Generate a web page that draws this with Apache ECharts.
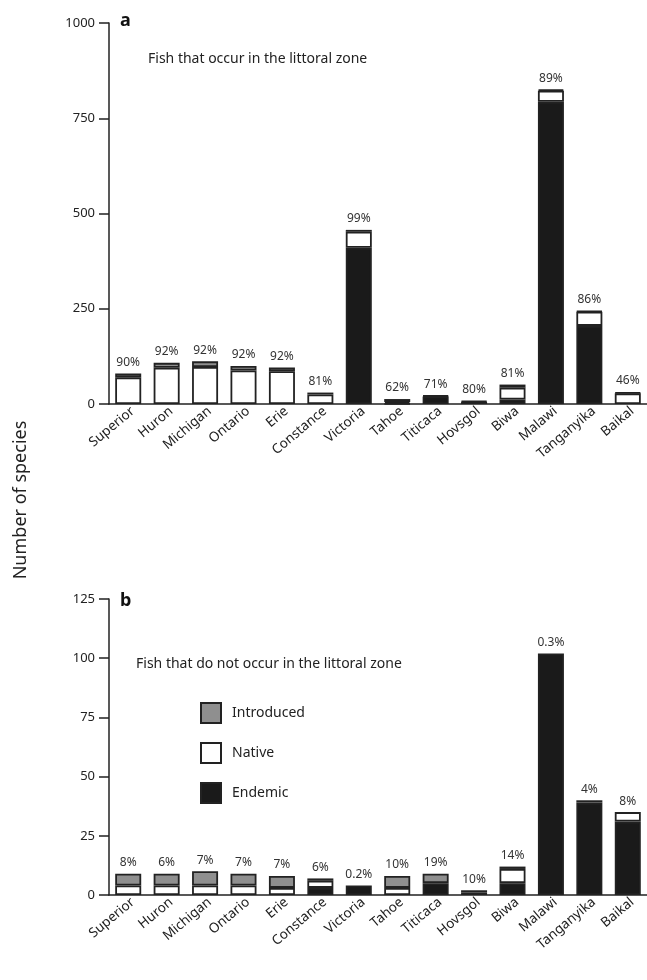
<!DOCTYPE html>
<html>
<head>
<meta charset="utf-8">
<script src="https://cdn.jsdelivr.net/npm/echarts@6/dist/echarts.min.js"></script>
<style>
html,body{margin:0;padding:0;background:#fff;}
#chart{width:647px;height:980px;}
</style>
</head>
<body>
<div id="chart"></div>
<script>
const lakes = ['Superior','Huron','Michigan','Ontario','Erie','Constance','Victoria','Tahoe','Titicaca','Hovsgol','Biwa','Malawi','Tanganyika','Baikal'];

// Panel a: fish that occur in the littoral zone
const endemicA    = [0, 0, 0, 0, 0, 0, 410, 1, 20, 0, 12, 793, 205, 0];
const nativeA     = [70, 95, 97, 88, 86, 25, 42, 4, 0, 6, 31, 29, 37, 28];
const introducedA = [10, 13, 15, 12, 10, 5, 5, 8, 2, 2, 8, 3, 2, 2];
const pctA = ['90%','92%','92%','92%','92%','81%','99%','62%','71%','80%','81%','89%','86%','46%'];

// Panel b: fish that do not occur in the littoral zone
const endemicB    = [0, 0, 0, 0, 0, 3, 4, 0, 5, 0, 5, 102, 39, 31];
const nativeB     = [4, 4, 4, 4, 3, 3, 0, 3, 0, 1, 6, 0, 0, 4];
const introducedB = [5, 5, 6, 5, 5, 1, 0, 5, 4, 1, 1, 0, 1, 0];
const pctB = ['8%','6%','7%','7%','7%','6%','0.2%','10%','19%','10%','14%','0.3%','4%','8%'];

const ticksA = {min:0, max:1000, interval:250};
const ticksB = {min:0, max:125, interval:25};

const FONT = 'Noto Sans';
const COLORS = {Introduced:'#8f8f8f', Native:'#ffffff', Endemic:'#1a1a1a'};

function seg(arr){
  return arr.map(v => v === 0 ? {value:0, itemStyle:{borderWidth:0}} : v);
}

function makeSeries(name, arr, idx, stack, pct){
  const s = {
    name: name, type:'bar', stack: stack,
    xAxisIndex: idx, yAxisIndex: idx,
    barWidth: 26,
    data: seg(arr),
    itemStyle:{color: COLORS[name], borderColor:'#222', borderWidth:1.8},
    emphasis:{disabled:true},
    animation:false
  };
  if (pct){
    s.label = {show:true, position:'top', distance:5, fontFamily:FONT, fontSize:12, color:'#333',
      formatter: p => pct[p.dataIndex]};
  }
  return s;
}

const xAxisCommon = {
  type:'category', data: lakes,
  axisLine:{show:true, lineStyle:{color:'#222', width:1.5}},
  axisTick:{show:false},
  axisLabel:{rotate:40, fontFamily:FONT, fontSize:13.5, color:'#222', margin:0, interval:0, verticalAlign:'top'}
};
const yAxisCommon = {
  type:'value',
  axisLine:{show:true, lineStyle:{color:'#222', width:1.5}},
  axisTick:{show:true, length:10, lineStyle:{color:'#222', width:1.5}},
  axisLabel:{fontFamily:FONT, fontSize:13, color:'#222', margin:14, formatter: v => String(v)},
  splitLine:{show:false}
};

const chart = echarts.init(document.getElementById('chart'), null, {renderer:'canvas'});
chart.setOption({
  backgroundColor:'#fff',
  animation:false,
  grid:[
    {left:109, top:23, width:540, height:381},
    {left:109, top:599, width:540, height:296}
  ],
  xAxis:[
    Object.assign({gridIndex:0}, xAxisCommon),
    Object.assign({gridIndex:1}, xAxisCommon)
  ],
  yAxis:[
    Object.assign({gridIndex:0}, yAxisCommon, ticksA),
    Object.assign({gridIndex:1}, yAxisCommon, ticksB)
  ],
  legend:{
    data:['Introduced','Native','Endemic'],
    orient:'vertical', left:195, top:697,
    itemWidth:20, itemHeight:20, itemGap:18,
    textStyle:{fontFamily:FONT, fontSize:14, color:'#222', padding:[0,0,0,6]},
    icon:'rect', selectedMode:false
  },
  series:[
    makeSeries('Endemic', endemicA, 0, 'a'),
    makeSeries('Native', nativeA, 0, 'a'),
    makeSeries('Introduced', introducedA, 0, 'a', pctA),
    makeSeries('Endemic', endemicB, 1, 'b'),
    makeSeries('Native', nativeB, 1, 'b'),
    makeSeries('Introduced', introducedB, 1, 'b', pctB)
  ],
  graphic:[
    {type:'text', left:120, top:12, style:{text:'a', fontFamily:FONT, fontSize:18, fontWeight:'bold', fill:'#111'}},
    {type:'text', left:120, top:592, style:{text:'b', fontFamily:FONT, fontSize:18, fontWeight:'bold', fill:'#111'}},
    {type:'text', left:148, top:52, style:{text:'Fish that occur in the littoral zone', fontFamily:FONT, fontSize:14, fill:'#222'}},
    {type:'text', left:136, top:657, style:{text:'Fish that do not occur in the littoral zone', fontFamily:FONT, fontSize:14, fill:'#222'}},
    {type:'text', x:21, y:500, rotation:Math.PI/2,
      style:{text:'Number of species', fontFamily:FONT, fontSize:18, fill:'#222', align:'center', verticalAlign:'middle'}}
  ]
});
</script>
</body>
</html>
